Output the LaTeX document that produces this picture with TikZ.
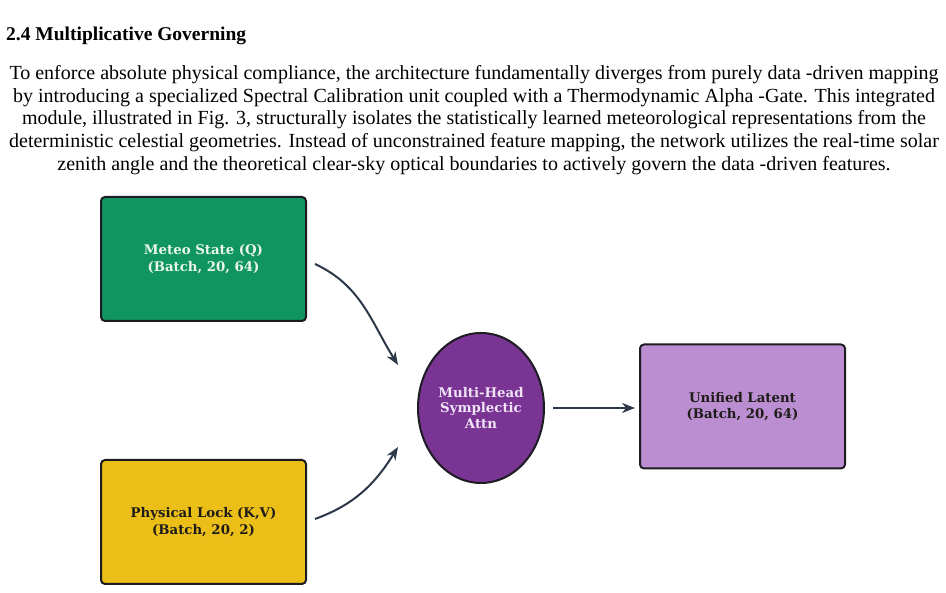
\documentclass[tikz,border=0pt]{standalone}
\usepackage{fontspec}
\setmainfont{Liberation Serif}
\newfontfamily\labelfont{DejaVu Serif}
\usetikzlibrary{arrows.meta, shapes.geometric}
\definecolor{meteogreen}{RGB}{16,149,96}
\definecolor{lockyellow}{RGB}{236,190,24}
\definecolor{attnpurple}{RGB}{122,53,148}
\definecolor{latentlilac}{RGB}{187,141,209}
\definecolor{edgedark}{RGB}{28,28,34}
\definecolor{linkslate}{RGB}{44,56,72}
\definecolor{palegreen}{RGB}{234,245,238}
\definecolor{palelilac}{RGB}{240,228,246}
\definecolor{inkdark}{RGB}{30,28,24}

\begin{document}
\begin{tikzpicture}[x=1pt, y=1pt, >={Stealth[length=13pt, width=10pt]}]
    \tikzset{block/.style={draw=edgedark, line width=2pt, rounded corners=4pt, minimum width=205pt, minimum height=124pt, inner sep=0pt, align=center, font=\labelfont\bfseries\fontsize{13.3}{16.5}\selectfont}};
    \tikzset{link/.style={->, draw=linkslate, line width=2pt}};
    \useasboundingbox (0,0) rectangle (946,593);
    \node[anchor=base west, inner sep=0pt, font=\bfseries\fontsize{19.5}{22}\selectfont] (title) at (6,552) {2.4 Multiplicative Governing};
    \node[anchor=north, inner sep=0pt, align=center, font=\fontsize{20}{22.8}\selectfont] (intro) at (474,528) {To enforce absolute physical compliance, the architecture fundamentally diverges from purely data -driven mapping\\
        by introducing a specialized Spectral Calibration unit coupled with a Thermodynamic Alpha -Gate. This integrated\\
        module, illustrated in Fig. 3, structurally isolates the statistically learned meteorological representations from the\\
        deterministic celestial geometries. Instead of unconstrained feature mapping, the network utilizes the real-time solar\\
        zenith angle and the theoretical clear-sky optical boundaries to actively govern the data -driven features.};
    \node[block, fill=meteogreen, text=palegreen] (meteo) at (203.5,334) {Meteo State (Q)\\(Batch, 20, 64)};
    \node[block, fill=lockyellow, text=inkdark] (lock) at (203.5,71) {Physical Lock (K,V)\\(Batch, 20, 2)};
    \node[ellipse, draw=edgedark, line width=2pt, fill=attnpurple, text=palelilac, minimum width=126pt, minimum height=150pt, inner sep=0pt, align=center, font=\labelfont\bfseries\fontsize{13.3}{15.5}\selectfont] (attn) at (481,185) {Multi-Head\\Symplectic\\Attn};
    \node[block, fill=latentlilac, text=inkdark] (latent) at (742.5,186.5) {Unified Latent\\(Batch, 20, 64)};
    \draw[link] ([xshift=8pt, yshift=-5pt]meteo.east) to[out=-25, in=122] ([xshift=-19pt, yshift=43pt]attn.west);
    \draw[link] ([xshift=8pt, yshift=3pt]lock.east) to[out=20, in=-122] ([xshift=-19pt, yshift=-39pt]attn.west);
    \draw[link, shorten <=8pt, shorten >=4pt] (attn.east) -- (attn.east -| latent.west);
\end{tikzpicture}
\end{document}
